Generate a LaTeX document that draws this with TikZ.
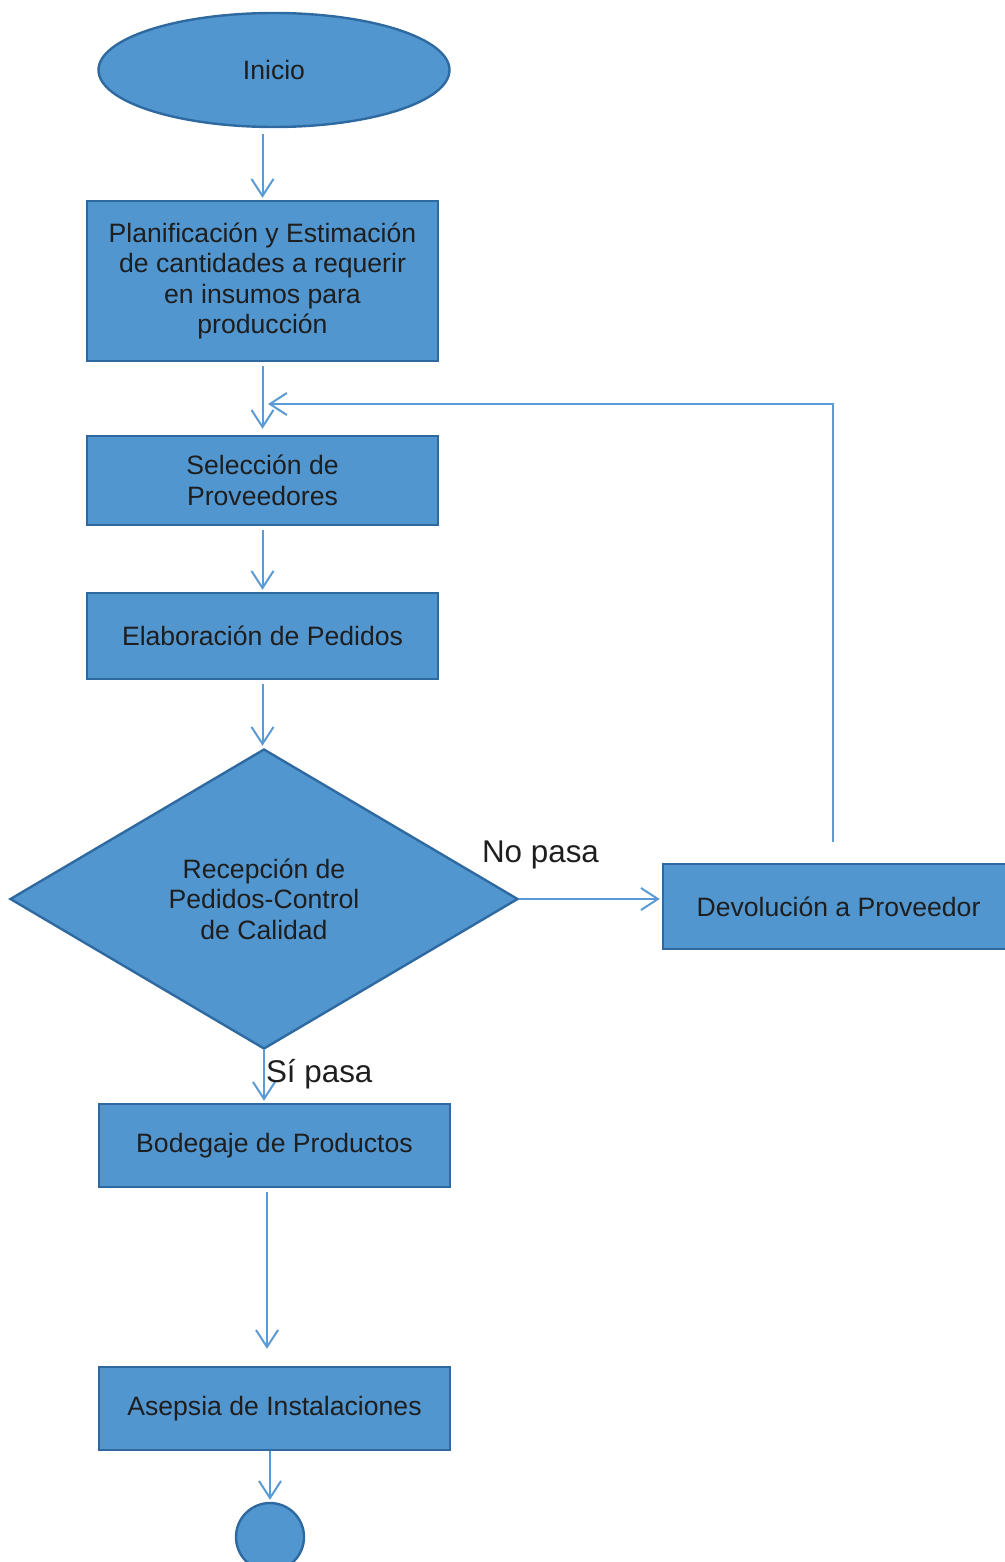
\documentclass[tikz,border=0pt]{standalone}
\usepackage{fontspec}
\setmainfont{Liberation Sans}
\usetikzlibrary{shapes.geometric, arrows.meta}
\definecolor{relleno}{RGB}{82,150,208}
\definecolor{borde}{RGB}{46,106,160}
\definecolor{linea}{RGB}{91,155,213}
\definecolor{texto}{RGB}{30,30,30}
\tikzset{
  caja/.style={draw=borde, fill=relleno, line width=1.2pt, text=texto,
    align=center, inner sep=0pt, minimum width=175.5pt},
  flecha/.style={draw=linea, line width=1pt, shorten <=2pt, shorten >=1pt,
    -{Straight Barb[length=8.5pt, width=11pt, line width=1pt]}},
  etiqueta/.style={text=texto, inner sep=0pt, anchor=base west,
    font=\fontsize{15.7}{18}\selectfont}
}
\begin{document}
\begin{tikzpicture}[x=0.5pt, y=-0.5pt, font=\fontsize{13.3}{15.3}\selectfont]
  \useasboundingbox (0,0) rectangle (1005,1562);
  % Nodos
  \node[caja, ellipse, minimum width=175.5pt, minimum height=57pt] (inicio) at (274,70) {Inicio};
  \node[caja, minimum height=80pt] (plan) at (262.5,281)
    {Planificación y Estimación\\de cantidades a requerir\\en insumos para\\producción};
  \node[caja, minimum height=44.5pt] (sel) at (262.5,480.5) {Selección de\\Proveedores};
  \node[caja, minimum height=43pt] (elab) at (262.5,636) {Elaboración de Pedidos};
  \node[caja, diamond, minimum width=254pt, minimum height=150pt] (dec) at (264,899)
    {Recepción de\\Pedidos-Control\\de Calidad};
  \node[caja, minimum height=42.5pt] (dev) at (838.5,906.5) {Devolución a Proveedor};
  \node[caja, minimum height=41.5pt] (bod) at (274.5,1145.5) {Bodegaje de Productos};
  \node[caja, minimum height=41.5pt] (ase) at (274.5,1408.5) {Asepsia de Instalaciones};
  \node[caja, circle, minimum width=0pt, minimum size=34pt] (fin) at (270,1537) {};
  \coordinate (retorno) at (266,404);
  % Conectores
  \draw[flecha, shorten <=3pt] (inicio.south -| plan.north) -- (plan.north);
  \draw[flecha, shorten >=3pt] (plan.south) -- (sel.north);
  \draw[flecha] (sel.south) -- (elab.north);
  \draw[flecha] (elab.south) -- (elab.south |- dec.north);
  \draw[flecha, shorten <=0pt] (dec.east) -- (dec.east -| dev.west)
    node[etiqueta] at (481,862) {No pasa};
  \draw[flecha, shorten <=10.5pt] ([xshift=-2.75pt]dev.north) |- (retorno);
  \draw[flecha, shorten <=0pt] (dec.south) -- (dec.south |- bod.north)
    node[etiqueta] at (265,1082) {Sí pasa};
  \draw[flecha, shorten >=8.5pt] ([xshift=-3.75pt]bod.south) -- ([xshift=-3.75pt]ase.north);
  \draw[flecha, shorten <=0pt] (ase.south -| fin.north) -- (fin.north);
\end{tikzpicture}
\end{document}
